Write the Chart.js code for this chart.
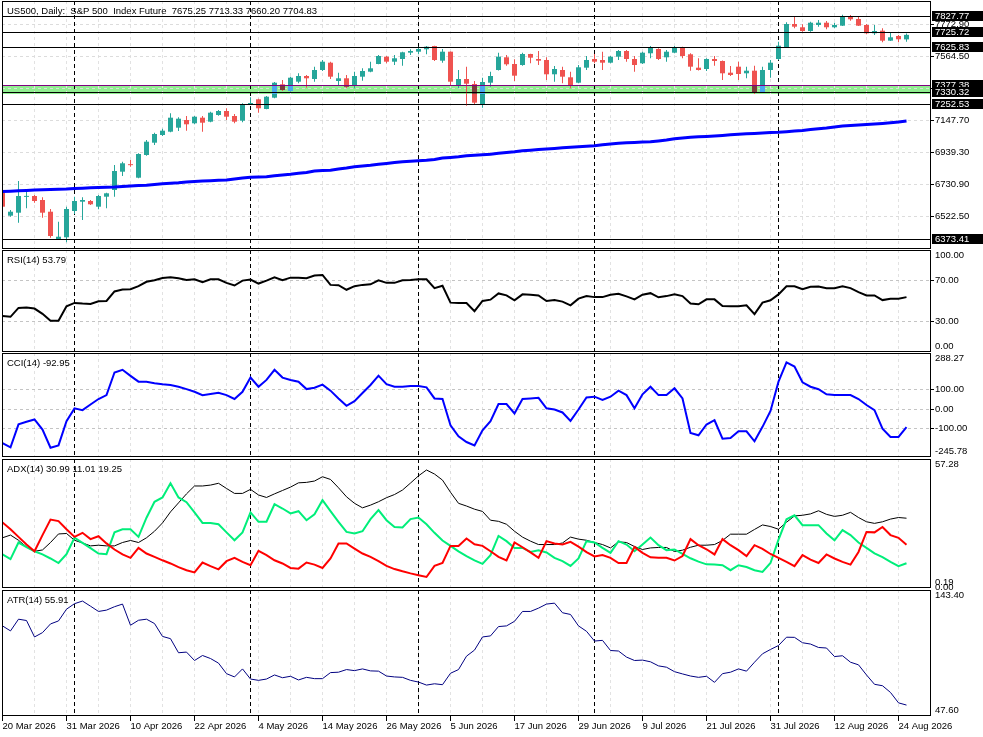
<!DOCTYPE html>
<html>
<head>
<meta charset="utf-8">
<title>US500 Daily</title>
<script src="https://cdn.jsdelivr.net/npm/chart.js@4.4.1/dist/chart.umd.min.js"></script>
<style>
  html, body { margin: 0; padding: 0; background: #fff; }
  #wrap { position: relative; width: 983px; height: 737px; overflow: hidden; background: #fff; }
  #wrap canvas { position: absolute; left: 0; top: 0; }
</style>
</head>
<body>
<div id="wrap">
  <canvas id="mainChart" width="983" height="737"></canvas>
  <canvas id="rsiChart" width="983" height="737"></canvas>
  <canvas id="cciChart" width="983" height="737"></canvas>
  <canvas id="adxChart" width="983" height="737"></canvas>
  <canvas id="atrChart" width="983" height="737"></canvas>
</div>
<script>
// ---- values (one entry per daily bar) ----
const xLabels = ['20 Mar 2026', '31 Mar 2026', '10 Apr 2026', '22 Apr 2026', '4 May 2026',
  '14 May 2026', '26 May 2026', '5 Jun 2026', '17 Jun 2026', '29 Jun 2026', '9 Jul 2026',
  '21 Jul 2026', '31 Jul 2026', '12 Aug 2026', '24 Aug 2026'];
const monthStarts = [9, 31, 52, 74, 97];

const opens = [6678.0, 6525.4, 6545.0, 6648.0, 6653.9, 6627.8, 6551.5, 6371.5, 6384.5, 6556.1,
  6616.7, 6621.3, 6584.1, 6649.3, 6693.0, 6812.4, 6858.5, 6773.2, 6921.3, 7001.5,
  7051.7, 7073.3, 7099.3, 7149.6, 7128.0, 7164.6, 7138.5, 7182.2, 7208.3, 7175.6,
  7145.0, 7254.0, 7284.6, 7221.3, 7295.0, 7382.4, 7338.7, 7399.4, 7436.5, 7417.0,
  7475.7, 7523.3, 7403.9, 7421.5, 7377.8, 7432.0, 7464.6, 7514.8, 7562.4, 7529.8,
  7547.4, 7588.5, 7595.0, 7610.7, 7632.2, 7536.3, 7595.0, 7373.3, 7417.0, 7384.4,
  7253.9, 7392.8, 7475.7, 7558.5, 7514.8, 7508.3, 7580.0, 7547.4, 7540.9, 7447.6,
  7475.7, 7428.0, 7392.8, 7490.7, 7547.4, 7540.9, 7523.3, 7562.4, 7599.6, 7547.4,
  7519.4, 7584.6, 7612.6, 7558.5, 7588.5, 7623.7, 7578.1, 7490.7, 7482.2, 7547.4,
  7534.4, 7458.1, 7497.2, 7454.1, 7471.1, 7330.2, 7475.7, 7547.4, 7623.7, 7775.7,
  7754.2, 7730.0, 7769.1, 7784.1, 7754.2, 7764.6, 7827.8, 7808.3, 7769.1, 7715.0,
  7732.0, 7666.8, 7697.4, 7675.25];
const highs = [6693.0, 6562.6, 6751.7, 6681.9, 6660.4, 6645.4, 6569.1, 6486.3, 6584.1, 6649.3,
  6645.4, 6627.8, 6660.4, 6675.4, 6856.1, 6877.6, 6888.7, 6932.4, 7019.1, 7066.7,
  7092.8, 7193.3, 7167.2, 7175.6, 7175.6, 7175.6, 7203.7, 7214.8, 7225.9, 7188.7,
  7258.5, 7297.6, 7288.5, 7306.1, 7397.4, 7410.4, 7432.0, 7454.1, 7443.0, 7497.2,
  7540.9, 7529.8, 7458.1, 7443.0, 7464.6, 7486.7, 7529.8, 7573.5, 7567.0, 7573.5,
  7595.0, 7610.7, 7627.6, 7632.2, 7634.1, 7612.6, 7597.0, 7475.7, 7497.2, 7403.9,
  7425.4, 7464.6, 7588.5, 7573.5, 7545.4, 7588.5, 7582.0, 7599.6, 7558.5, 7501.7,
  7497.2, 7464.6, 7508.3, 7567.0, 7580.0, 7595.0, 7567.0, 7606.1, 7606.1, 7567.0,
  7595.0, 7632.2, 7617.2, 7606.1, 7632.2, 7627.6, 7584.6, 7552.0, 7552.0, 7567.0,
  7537.0, 7501.7, 7529.8, 7497.2, 7503.7, 7497.2, 7540.9, 7660.2, 7786.8, 7823.3,
  7773.7, 7790.7, 7801.8, 7795.2, 7784.1, 7836.0, 7834.4, 7823.3, 7775.7, 7769.1,
  7747.6, 7718.9, 7703.9, 7713.33];
const lows = [6575.6, 6518.9, 6479.8, 6573.7, 6610.2, 6512.4, 6381.9, 6366.9, 6351.9, 6536.5,
  6497.4, 6595.2, 6567.1, 6573.7, 6649.3, 6784.3, 6845.0, 6769.3, 6916.7, 6986.5,
  7045.2, 7070.0, 7077.8, 7079.8, 7121.5, 7073.3, 7134.6, 7177.6, 7149.6, 7128.0,
  7134.6, 7252.0, 7197.2, 7219.4, 7291.1, 7338.7, 7334.1, 7388.9, 7360.2, 7399.4,
  7469.1, 7417.0, 7377.8, 7356.3, 7356.3, 7405.9, 7460.7, 7512.9, 7519.4, 7508.3,
  7503.7, 7573.5, 7578.1, 7578.1, 7534.4, 7523.3, 7377.8, 7356.3, 7242.8, 7252.0,
  7229.8, 7366.7, 7473.0, 7503.7, 7403.9, 7503.7, 7519.4, 7508.3, 7410.4, 7399.4,
  7388.9, 7356.3, 7388.9, 7475.7, 7519.4, 7475.7, 7519.4, 7540.9, 7529.8, 7464.6,
  7514.8, 7552.0, 7540.9, 7529.8, 7584.6, 7552.0, 7471.1, 7473.0, 7469.1, 7503.7,
  7410.4, 7436.5, 7410.4, 7421.5, 7319.1, 7328.0, 7425.4, 7540.9, 7621.0, 7747.6,
  7725.5, 7725.5, 7758.1, 7741.1, 7747.6, 7762.0, 7797.2, 7762.6, 7708.5, 7703.9,
  7656.3, 7664.8, 7656.3, 7660.20];
const closes = [6584.1, 6551.5, 6653.9, 6651.0, 6621.3, 6545.0, 6393.0, 6388.4, 6569.1, 6621.3,
  6627.8, 6599.8, 6653.9, 6671.5, 6816.9, 6867.2, 6855.0, 6927.8, 7008.0, 7058.3,
  7079.8, 7164.6, 7158.0, 7121.5, 7171.1, 7131.9, 7197.2, 7208.3, 7171.1, 7138.5,
  7252.0, 7258.5, 7225.9, 7301.5, 7392.8, 7345.2, 7425.4, 7436.5, 7421.5, 7475.7,
  7529.8, 7432.0, 7421.5, 7366.7, 7436.5, 7469.1, 7486.7, 7567.0, 7529.8, 7552.0,
  7591.1, 7599.6, 7612.6, 7627.6, 7540.9, 7595.0, 7399.4, 7417.0, 7386.3, 7262.4,
  7397.4, 7436.5, 7562.4, 7512.9, 7438.5, 7580.0, 7555.9, 7536.3, 7447.6, 7482.2,
  7432.0, 7377.8, 7493.3, 7540.9, 7529.8, 7523.3, 7562.4, 7599.6, 7547.4, 7508.3,
  7588.5, 7623.7, 7547.4, 7595.0, 7623.7, 7567.0, 7497.2, 7475.7, 7547.4, 7534.4,
  7454.1, 7443.0, 7449.6, 7471.1, 7327.6, 7475.7, 7523.3, 7634.1, 7775.7, 7758.1,
  7730.0, 7784.1, 7784.1, 7754.2, 7769.1, 7823.3, 7806.3, 7764.6, 7715.0, 7730.0,
  7666.8, 7688.9, 7675.9, 7704.83];
const maValues = [6682.6, 6685.2, 6687.8, 6690.4, 6693.0, 6694.3, 6696.3, 6698.3, 6699.5, 6702.1,
  6704.8, 6707.4, 6709.3, 6711.3, 6712.6, 6715.8, 6719.1, 6721.7, 6723.7, 6728.9,
  6733.5, 6737.4, 6740.6, 6745.2, 6748.5, 6751.7, 6753.7, 6756.3, 6758.2, 6764.8,
  6770.6, 6775.8, 6777.8, 6779.8, 6785.6, 6790.8, 6795.4, 6801.9, 6807.8, 6816.3,
  6820.2, 6822.2, 6830.0, 6836.5, 6844.3, 6849.5, 6854.1, 6860.6, 6866.5, 6871.7,
  6876.9, 6880.2, 6883.5, 6887.4, 6892.6, 6901.1, 6905.6, 6910.2, 6916.1, 6919.3,
  6922.6, 6925.9, 6933.0, 6937.6, 6942.2, 6948.7, 6952.6, 6956.5, 6960.4, 6964.3,
  6968.2, 6972.2, 6975.4, 6978.7, 6981.9, 6987.8, 6993.7, 6997.6, 7001.5, 7003.5,
  7005.4, 7007.4, 7012.6, 7018.5, 7026.9, 7032.2, 7036.7, 7040.0, 7042.6, 7045.9,
  7049.1, 7053.0, 7056.3, 7059.6, 7062.2, 7064.8, 7067.4, 7069.3, 7073.2, 7077.8,
  7081.7, 7087.0, 7092.2, 7096.7, 7103.9, 7109.8, 7113.0, 7116.3, 7120.2, 7123.5,
  7127.4, 7131.9, 7136.5, 7143.0];
const rsiValues = [35.4, 34.5, 43.2, 43.6, 42.6, 37.4, 30.6, 30.6, 44.8, 48.1,
  47.5, 47.1, 49.7, 50.0, 59.4, 61.3, 61.6, 64.5, 68.8, 70.3,
  72.6, 73.2, 72.3, 70.7, 71.3, 68.4, 71.3, 71.3, 67.8, 65.2,
  70.0, 71.0, 67.1, 70.0, 73.2, 70.3, 72.9, 72.9, 72.3, 74.9,
  75.5, 65.8, 65.5, 61.0, 64.5, 65.8, 66.4, 70.3, 67.8, 67.8,
  70.3, 70.6, 71.3, 71.3, 62.6, 64.9, 48.4, 48.1, 48.1, 40.0,
  50.0, 51.3, 57.4, 55.5, 50.7, 56.5, 56.1, 55.5, 50.0, 50.9,
  49.4, 45.8, 52.3, 54.8, 53.8, 53.8, 56.2, 57.1, 54.5, 51.6,
  56.2, 57.7, 53.6, 54.8, 56.5, 54.8, 47.5, 46.8, 51.6, 51.6,
  45.1, 44.8, 44.8, 45.8, 37.1, 48.4, 50.7, 56.5, 64.5, 64.5,
  61.6, 63.9, 64.2, 62.6, 62.6, 64.5, 62.6, 58.7, 55.5, 55.5,
  50.9, 52.3, 52.3, 53.79];
const cciValues = [-174, -196, -78, -65, -53, -105, -198, -186, -62, 4,
  -5, 24, 52, 72, 188, 202, 171, 141, 141, 133,
  128, 124, 115, 103, 89, 72, 78, 84, 72, 52,
  89, 162, 115, 150, 202, 162, 150, 141, 103, 110,
  126, 95, 55, 17, 41, 83, 124, 172, 128, 115,
  115, 119, 119, 112, 55, 52, -83, -140, -169, -186,
  -109, -62, 26, 26, -22, 52, 55, 58, 4, -2,
  -17, -60, -2, 60, 64, 47, 64, 95, 72, 4,
  76, 115, 72, 72, 107, 55, -122, -134, -79, -57,
  -152, -148, -114, -114, -165, -91, -9, 141, 240, 219,
  138, 115, 102, 76, 72, 72, 72, 52, 21, -5,
  -100, -143, -143, -92.95];
const adxValues = [22.3, 23.5, 21.2, 18.2, 16.3, 16.9, 20.2, 24.0, 24.2, 21.2,
  20.0, 18.7, 19.0, 18.7, 18.7, 20.2, 21.1, 20.2, 22.3, 25.2,
  28.9, 33.8, 37.8, 41.8, 45.3, 45.3, 45.7, 46.5, 44.2, 42.0,
  42.0, 43.8, 41.3, 40.2, 41.8, 43.3, 44.8, 46.7, 46.9, 47.5,
  49.4, 48.2, 44.5, 40.5, 37.6, 35.6, 36.8, 38.3, 40.1, 41.5,
  43.5, 46.6, 49.8, 52.4, 50.6, 47.9, 42.5, 37.6, 36.4, 35.0,
  34.0, 30.1, 29.6, 28.3, 25.2, 22.6, 20.8, 19.3, 19.3, 19.3,
  20.0, 22.6, 21.7, 21.2, 20.2, 19.3, 17.8, 20.5, 20.2, 18.4,
  17.1, 17.8, 18.0, 18.0, 16.2, 16.8, 18.1, 19.0, 19.0, 19.3,
  21.1, 23.9, 23.9, 23.9, 26.0, 28.0, 27.3, 26.1, 29.2, 32.0,
  32.3, 32.9, 34.3, 32.7, 31.8, 32.3, 33.6, 31.3, 29.4, 28.7,
  29.4, 30.6, 31.3, 30.99];
const plusDiValues = [14.9, 12.8, 20.2, 18.2, 16.3, 14.9, 13.1, 11.1, 15.0, 22.3,
  20.0, 17.7, 15.3, 15.0, 24.7, 26.1, 26.1, 22.7, 31.2, 38.3,
  40.2, 46.5, 40.2, 38.1, 33.6, 28.9, 28.9, 28.3, 24.7, 21.2,
  24.7, 33.6, 29.4, 29.4, 37.2, 35.3, 33.1, 34.1, 30.1, 32.7,
  39.0, 34.1, 29.4, 24.9, 24.2, 25.2, 30.6, 34.6, 30.1, 27.1,
  26.9, 30.6, 31.3, 28.3, 24.5, 21.1, 18.7, 16.3, 14.2, 12.3,
  10.7, 14.6, 23.1, 20.8, 17.8, 17.8, 16.0, 16.8, 15.8, 13.4,
  11.9, 9.8, 13.1, 20.8, 20.2, 17.8, 15.6, 20.8, 19.3, 16.3,
  19.3, 22.4, 19.0, 16.8, 17.1, 15.1, 13.2, 11.7, 10.5, 10.4,
  10.1, 7.9, 10.1, 9.3, 7.9, 7.1, 11.1, 21.5, 30.5, 32.3,
  27.9, 27.9, 27.9, 24.2, 21.2, 25.7, 23.5, 20.2, 17.8, 15.4,
  13.7, 11.6, 9.7, 11.01];
const minusDiValues = [29.1, 26.1, 22.7, 19.3, 16.3, 23.5, 30.4, 29.7, 26.1, 22.7,
  24.5, 21.7, 23.0, 19.8, 17.1, 14.9, 13.4, 17.8, 15.3, 13.8,
  12.3, 10.9, 9.3, 7.9, 6.9, 11.3, 9.7, 8.3, 11.9, 13.4,
  11.6, 10.1, 16.5, 14.6, 12.3, 10.9, 8.9, 8.6, 11.3, 10.4,
  8.9, 13.1, 19.8, 19.8, 17.5, 15.3, 13.8, 11.9, 9.8, 8.4,
  7.4, 6.5, 5.7, 4.9, 9.8, 11.1, 18.7, 18.7, 22.0, 19.4,
  18.7, 16.3, 13.8, 12.2, 20.2, 18.1, 15.8, 13.4, 20.8, 19.8,
  19.3, 20.5, 18.4, 15.9, 14.0, 14.6, 13.4, 11.1, 11.1, 18.2,
  15.6, 13.6, 13.4, 13.4, 12.2, 14.2, 21.7, 19.0, 17.2, 14.9,
  21.7, 19.0, 16.8, 14.2, 19.0, 17.4, 15.1, 13.4, 11.6, 9.7,
  14.6, 12.6, 11.1, 14.9, 13.1, 11.6, 10.4, 16.0, 24.9, 24.7,
  27.1, 23.5, 22.3, 19.25];
const atrValues = [116.1, 112.3, 121.2, 120.2, 107.7, 111.0, 117.6, 119.9, 128.8, 133.0,
  135.0, 131.1, 127.1, 128.1, 130.7, 132.7, 116.6, 120.4, 121.2, 117.9,
  108.1, 106.4, 95.7, 96.2, 89.8, 93.6, 91.3, 87.8, 79.8, 77.3,
  83.4, 75.7, 74.7, 75.7, 78.8, 76.7, 77.8, 75.0, 77.0, 76.0,
  76.0, 80.6, 80.9, 82.9, 82.1, 83.4, 81.9, 81.7, 78.0, 77.3,
  77.0, 74.7, 73.4, 71.1, 72.1, 71.4, 80.1, 82.9, 93.1, 97.7,
  107.7, 108.5, 115.6, 116.1, 119.6, 127.1, 127.1, 129.6, 132.7, 133.4,
  126.1, 124.8, 116.1, 112.0, 104.6, 105.1, 97.4, 97.0, 92.4, 89.8,
  90.1, 88.8, 85.7, 84.7, 81.3, 79.6, 78.0, 77.0, 77.8, 73.2,
  79.8, 80.9, 83.4, 81.7, 88.5, 94.9, 98.2, 101.2, 107.5, 107.4,
  103.3, 102.3, 99.7, 99.3, 92.8, 93.4, 88.5, 86.5, 78.8, 71.7,
  70.6, 65.5, 57.6, 55.91];

// horizontal levels and the support zone drawn on the price panel
const levelValues = [7827.77, 7725.72, 7625.83, 7377.38, 7330.32, 7252.53, 6373.41];
const bandRange = [7319, 7377.38];

// axis ranges and tick labels of each panel
const mainRange = [6308.2, 7925.6];
const mainTicks = [6522.5, 6730.9, 6939.3, 7147.7, 7356.1, 7564.5, 7772.9];
const rsiRange = [0, 100];
const rsiTicks = [0, 30, 70, 100];
const rsiGrid = [30, 70];
const cciRange = [-245.78, 288.27];
const cciTicks = [-245.78, -100, 0, 100, 288.27];
const cciGrid = [-100, 0, 100];
const adxRange = [0, 57.28];
const adxTicks = [0, 0.19, 57.28];
const atrRange = [47.6, 143.4];
const atrTicks = [47.6, 143.4];

// ---- styling / layout ----
const BULL = '#26a69a', BEAR = '#ef5350';
const FONT = '9.5px "Liberation Sans", Arial, sans-serif';
const PLOT_LEFT = 2, AXIS_W = 52, BAR_PX = 8;
const X_MIN = -0.5 / BAR_PX;
const X_MAX = X_MIN + (983 - AXIS_W - PLOT_LEFT) / BAR_PX;
const levelColors = ['#000', '#000', '#000', '#800080', '#000', '#000', '#000'];
const CLEAR = 'rgba(0,0,0,0)';

Chart.defaults.font.family = '"Liberation Sans", Arial, sans-serif';
Chart.defaults.font.size = 9.5;
Chart.defaults.color = '#000';

const pts = arr => arr.map((v, i) => ({ x: i, y: v }));

// keep the price labels at the top and bottom of a panel inside it, like the terminal does
function clampAxisLabels(scale, area) {
  const items = scale.getLabelItems(area);
  if (!items || items._clamped) return;
  items._clamped = true;
  const m = 5.5;
  items.forEach(it => {
    const t = it.options.translation;
    t[1] = Math.min(Math.max(t[1], area.top + m), area.bottom - m);
  });
  for (let i = 1; i < items.length; i++) {
    const a = items[i - 1].options.translation, b = items[i].options.translation;
    if (Math.abs(a[1] - b[1]) < 1) a[1] += 5;
  }
}

const panelPlugin = {
  id: 'panel',
  beforeDraw(chart, args, opts) {
    clampAxisLabels(chart.scales.y, chart.chartArea);
    if (opts.band) {
      const { ctx, chartArea: a, scales: { y } } = chart;
      const top = y.getPixelForValue(opts.band[1]);
      const bot = y.getPixelForValue(opts.band[0]);
      ctx.save();
      ctx.fillStyle = '#90ee90';
      ctx.fillRect(a.left, top, a.right - a.left, bot - top);
      ctx.restore();
    }
  },
  beforeDatasetsDraw(chart) {
    // month separators
    const { ctx, chartArea: a, scales: { x } } = chart;
    ctx.save();
    ctx.strokeStyle = '#000';
    ctx.lineWidth = 1;
    ctx.setLineDash([4, 3]);
    monthStarts.forEach(i => {
      const px = Math.floor(x.getPixelForValue(i)) + 0.5;
      ctx.beginPath();
      ctx.moveTo(px, a.top);
      ctx.lineTo(px, a.bottom);
      ctx.stroke();
    });
    ctx.restore();
  },
  afterDatasetsDraw(chart, args, opts) {
    if (!opts.levels) return;
    const { ctx, chartArea: a, scales: { y } } = chart;
    ctx.save();
    ctx.lineWidth = 1;
    levelValues.forEach((v, i) => {
      const py = Math.round(y.getPixelForValue(v)) + 0.5;
      ctx.strokeStyle = levelColors[i];
      ctx.beginPath();
      ctx.moveTo(a.left, py);
      ctx.lineTo(a.right, py);
      ctx.stroke();
    });
    ctx.restore();
  },
  afterDraw(chart, args, opts) {
    const { ctx, chartArea: a } = chart;
    ctx.save();
    ctx.strokeStyle = '#000';
    ctx.lineWidth = 1;
    ctx.strokeRect(a.left + 0.5, a.top + 0.5, a.right - a.left - 1, a.bottom - a.top - 1);
    ctx.font = FONT;
    ctx.textBaseline = 'middle';
    ctx.fillStyle = '#000';
    ctx.fillText(opts.label, a.left + 5, a.top + 10);
    if (opts.levels) {
      const y = chart.scales.y;
      levelValues.forEach(v => {
        const py = Math.round(y.getPixelForValue(v));
        ctx.fillStyle = '#000';
        ctx.fillRect(a.right + 1, py - 5, 983 - a.right - 1, 10);
        ctx.fillStyle = '#fff';
        ctx.fillText(v.toFixed(2), a.right + 4, py + 0.5);
      });
    }
    ctx.restore();
  }
};

function xAxis(showLabels) {
  return {
    type: 'linear', min: X_MIN, max: X_MAX, offset: false,
    afterBuildTicks: s => {
      s.ticks = [];
      for (let v = 0; v < opens.length; v += 4) s.ticks.push({ value: v });
    },
    afterFit: s => { s.height = showLabels ? 21 : 0; s.paddingLeft = 0; s.paddingRight = 0; },
    grid: {
      offset: false, color: '#e2e2e2', drawTicks: showLabels, tickLength: 5,
      tickColor: c => (c.tick && c.tick.value % 8 === 0) ? '#000' : CLEAR
    },
    border: { display: false, dash: [3, 3] },
    ticks: {
      display: showLabels, autoSkip: false, maxRotation: 0, align: 'start', padding: 0,
      callback: v => (v % 8 === 0 && xLabels[v / 8]) ? xLabels[v / 8] : ''
    }
  };
}

function yAxis(range, tickVals, gridVals, gridColor) {
  return {
    type: 'linear', position: 'right', min: range[0], max: range[1],
    afterBuildTicks: s => { s.ticks = tickVals.map(v => ({ value: v })); },
    afterFit: s => { s.width = AXIS_W; s.paddingTop = 0; s.paddingBottom = 0; },
    grid: {
      color: c => (c.tick && gridVals.includes(c.tick.value)) ? (gridColor || '#c4c4c4') : CLEAR,
      drawTicks: true, tickLength: 3,
      tickColor: c => (c.tick && gridVals.includes(c.tick.value)) ? '#000' : CLEAR
    },
    border: { display: false, dash: [3, 3] },
    ticks: { padding: 1, color: '#000', callback: v => Number(v).toFixed(2) }
  };
}

function makeChart(id, rect, datasets, yScale, panel, showX) {
  return new Chart(document.getElementById(id), {
    type: 'line',
    data: { datasets },
    options: {
      responsive: false, animation: false, devicePixelRatio: 1, events: [],
      layout: { padding: { left: PLOT_LEFT, right: 0, top: rect[0], bottom: showX ? 0 : 737 - rect[1] } },
      plugins: { legend: { display: false }, tooltip: { enabled: false }, panel },
      scales: { x: xAxis(showX), y: yScale }
    },
    plugins: [panelPlugin]
  });
}

function lineSet(values, color, width, order) {
  return { type: 'line', data: pts(values), borderColor: color, borderWidth: width,
    pointRadius: 0, pointHitRadius: 0, tension: 0, fill: false, order: order || 0 };
}

// ---- price panel ----
const last = opens.length - 1;
const candleColors = closes.map((c, i) => c >= opens[i] ? BULL : BEAR);
const bodyInBand = [];
opens.forEach((o, i) => {
  const lo = Math.max(Math.min(o, closes[i]), bandRange[0]);
  const hi = Math.min(Math.max(o, closes[i]), bandRange[1]);
  if (hi > lo) bodyInBand.push({ x: i, y: [lo, hi], up: closes[i] >= o });
});

const barBase = { type: 'bar', grouped: false, inflateAmount: 0, borderWidth: 0, clip: 0 };
makeChart('mainChart', [1, 249], [
  Object.assign({}, barBase, { data: lows.map((l, i) => ({ x: i, y: [l, highs[i]] })),
    backgroundColor: candleColors, barThickness: 1, order: 4 }),
  Object.assign({}, barBase, { data: opens.map((o, i) => ({ x: i, y: [o, closes[i]] })),
    backgroundColor: candleColors, barThickness: 5, minBarLength: 1, order: 3 }),
  Object.assign({}, barBase, { data: bodyInBand.map(d => ({ x: d.x, y: d.y })),
    backgroundColor: bodyInBand.map(d => d.up ? '#4aa8f0' : '#7d3b3b'), barThickness: 5, order: 2 }),
  lineSet(maValues, '#0000ff', 3, 1)
], yAxis(mainRange, mainTicks, mainTicks, '#dcdcdc'), {
  label: 'US500, Daily:  S&P 500  Index Future  ' +
    [opens[last], highs[last], lows[last], closes[last]].map(v => v.toFixed(2)).join(' '),
  band: bandRange, levels: true
}, false);

// ---- indicator panels ----
makeChart('rsiChart', [250, 352], [lineSet(rsiValues, '#000000', 2)],
  yAxis(rsiRange, rsiTicks, rsiGrid),
  { label: 'RSI(14) ' + rsiValues[last].toFixed(2) }, false);

makeChart('cciChart', [353, 457], [lineSet(cciValues, '#0000ff', 2)],
  yAxis(cciRange, cciTicks, cciGrid),
  { label: 'CCI(14) ' + cciValues[last].toFixed(2) }, false);

makeChart('adxChart', [459, 588], [
  lineSet(adxValues, '#000000', 1, 2),
  lineSet(plusDiValues, '#00ee7a', 2, 1),
  lineSet(minusDiValues, '#ff0000', 2, 0)
], yAxis(adxRange, adxTicks, []),
  { label: 'ADX(14) ' + [adxValues[last], plusDiValues[last], minusDiValues[last]].map(v => v.toFixed(2)).join(' ') }, false);

makeChart('atrChart', [590, 716], [lineSet(atrValues, '#000080', 1)],
  yAxis(atrRange, atrTicks, []),
  { label: 'ATR(14) ' + atrValues[last].toFixed(2) }, true);
</script>
</body>
</html>
